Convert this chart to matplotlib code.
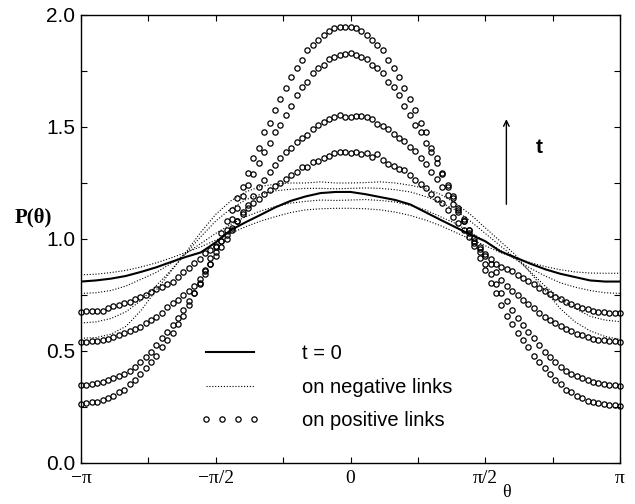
import numpy as np
import matplotlib
matplotlib.use("Agg")
import matplotlib.pyplot as plt
from matplotlib.lines import Line2D

# ---------- data ----------

# sampling grids (degrees)
theta_pts_deg = np.arange(101) * 3.6 - 180.0
theta_line_deg = np.arange(37) * 10.0 - 180.0

# P(theta) at t = 0
p_t0 = [0.810, 0.815, 0.823, 0.835, 0.853, 0.873, 0.897, 0.920, 0.940, 0.985,
        1.040, 1.075, 1.108, 1.142, 1.170, 1.190, 1.205, 1.210, 1.210, 1.200,
        1.187, 1.174, 1.154, 1.120, 1.086, 1.053, 1.020, 0.990, 0.945, 0.918,
        0.890, 0.865, 0.845, 0.830, 0.815, 0.810, 0.810]

# on negative links (dotted), four times
neg_1 = [0.557, 0.560, 0.575, 0.610, 0.680, 0.770, 0.855, 0.940, 1.030, 1.110,
         1.170, 1.210, 1.235, 1.245, 1.250, 1.250, 1.255, 1.250, 1.250, 1.252,
         1.255, 1.250, 1.240, 1.225, 1.200, 1.160, 1.110, 1.050, 0.990, 0.930,
         0.850, 0.770, 0.690, 0.630, 0.590, 0.565, 0.552]
neg_2 = [0.625, 0.630, 0.645, 0.675, 0.725, 0.790, 0.860, 0.935, 1.010, 1.080,
         1.135, 1.175, 1.200, 1.215, 1.222, 1.226, 1.226, 1.224, 1.226, 1.228,
         1.226, 1.220, 1.210, 1.190, 1.165, 1.130, 1.080, 1.025, 0.970, 0.915,
         0.855, 0.790, 0.735, 0.690, 0.655, 0.638, 0.631]
neg_3 = [0.757, 0.760, 0.770, 0.790, 0.820, 0.850, 0.890, 0.935, 0.980, 1.025,
         1.065, 1.100, 1.125, 1.145, 1.160, 1.168, 1.174, 1.172, 1.174, 1.176,
         1.172, 1.165, 1.150, 1.130, 1.100, 1.070, 1.030, 0.990, 0.950, 0.910,
         0.870, 0.835, 0.805, 0.785, 0.770, 0.760, 0.757]
neg_4 = [0.840, 0.843, 0.850, 0.860, 0.875, 0.893, 0.915, 0.940, 0.965, 0.995,
         1.025, 1.055, 1.080, 1.100, 1.118, 1.130, 1.135, 1.137, 1.137, 1.135,
         1.130, 1.120, 1.105, 1.085, 1.060, 1.030, 1.000, 0.970, 0.940, 0.915,
         0.895, 0.877, 0.863, 0.853, 0.848, 0.847, 0.847]

# on positive links (open circles), four times
pos_1 = [0.265, 0.268, 0.271, 0.274, 0.281, 0.292, 0.301, 0.316, 0.328, 0.353,
         0.371, 0.396, 0.422, 0.452, 0.478, 0.516, 0.549, 0.579, 0.620, 0.655,
         0.705, 0.760, 0.802, 0.860, 0.915, 0.970, 1.025, 1.080, 1.130, 1.185,
         1.234, 1.293, 1.360, 1.408, 1.476, 1.519, 1.576, 1.625, 1.676, 1.725,
         1.762, 1.801, 1.842, 1.865, 1.888, 1.911, 1.930, 1.940, 1.945, 1.945, 1.945,
         1.940, 1.930, 1.911, 1.888, 1.865, 1.842, 1.801, 1.762, 1.725, 1.676,
         1.625, 1.576, 1.519, 1.476, 1.408, 1.360, 1.293, 1.234, 1.185, 1.130,
         1.080, 1.025, 0.970, 0.915, 0.860, 0.802, 0.760, 0.705, 0.655, 0.620,
         0.579, 0.549, 0.516, 0.478, 0.452, 0.422, 0.396, 0.371, 0.353, 0.328,
         0.316, 0.301, 0.292, 0.279, 0.272, 0.266, 0.262, 0.259, 0.257, 0.256]
pos_2 = [0.348, 0.348, 0.353, 0.356, 0.363, 0.371, 0.378, 0.388, 0.397, 0.412,
         0.430, 0.452, 0.475, 0.497, 0.527, 0.557, 0.586, 0.616, 0.646, 0.683,
         0.722, 0.760, 0.800, 0.845, 0.890, 0.940, 0.990, 1.040, 1.090, 1.140,
         1.190, 1.240, 1.290, 1.338, 1.390, 1.430, 1.479, 1.509, 1.555, 1.594,
         1.641, 1.680, 1.701, 1.742, 1.762, 1.777, 1.802, 1.811, 1.821, 1.826, 1.830,
         1.821, 1.811, 1.802, 1.777, 1.762, 1.742, 1.701, 1.680, 1.641, 1.594,
         1.555, 1.509, 1.479, 1.430, 1.390, 1.338, 1.290, 1.240, 1.190, 1.140,
         1.090, 1.040, 0.990, 0.940, 0.890, 0.845, 0.800, 0.760, 0.722, 0.683,
         0.646, 0.616, 0.586, 0.557, 0.527, 0.497, 0.475, 0.452, 0.430, 0.412,
         0.397, 0.388, 0.378, 0.371, 0.363, 0.356, 0.353, 0.348, 0.347, 0.345]
pos_3 = [0.542, 0.542, 0.545, 0.546, 0.549, 0.555, 0.563, 0.570, 0.579, 0.589,
         0.598, 0.609, 0.624, 0.638, 0.653, 0.668, 0.695, 0.713, 0.728, 0.750,
         0.770, 0.790, 0.820, 0.855, 0.890, 0.925, 0.965, 1.000, 1.040, 1.080,
         1.120, 1.150, 1.190, 1.230, 1.265, 1.300, 1.330, 1.360, 1.390, 1.408,
         1.434, 1.450, 1.464, 1.490, 1.509, 1.521, 1.534, 1.546, 1.554, 1.546, 1.546,
         1.548, 1.550, 1.544, 1.536, 1.512, 1.505, 1.490, 1.470, 1.452, 1.436,
         1.410, 1.392, 1.362, 1.333, 1.300, 1.268, 1.232, 1.195, 1.155, 1.120,
         1.082, 1.042, 1.003, 0.965, 0.925, 0.888, 0.852, 0.818, 0.788, 0.768,
         0.748, 0.728, 0.711, 0.694, 0.670, 0.653, 0.638, 0.624, 0.610, 0.598,
         0.588, 0.578, 0.570, 0.562, 0.555, 0.550, 0.547, 0.545, 0.543, 0.542]
pos_4 = [0.675, 0.678, 0.680, 0.678, 0.680, 0.690, 0.700, 0.705, 0.713, 0.720,
         0.730, 0.740, 0.752, 0.765, 0.777, 0.787, 0.800, 0.810, 0.830, 0.854,
         0.870, 0.891, 0.910, 0.936, 0.950, 0.965, 0.990, 1.020, 1.050, 1.080,
         1.110, 1.140, 1.160, 1.180, 1.200, 1.220, 1.235, 1.250, 1.270, 1.286,
         1.300, 1.320, 1.323, 1.345, 1.350, 1.363, 1.371, 1.383, 1.390, 1.387, 1.383,
         1.388, 1.378, 1.383, 1.368, 1.378, 1.353, 1.335, 1.327, 1.312, 1.308,
         1.286, 1.263, 1.246, 1.226, 1.200, 1.180, 1.160, 1.130, 1.100, 1.070,
         1.040, 1.010, 0.980, 0.955, 0.935, 0.910, 0.890, 0.875, 0.865, 0.855,
         0.840, 0.826, 0.812, 0.798, 0.783, 0.768, 0.755, 0.742, 0.730, 0.720,
         0.710, 0.700, 0.693, 0.686, 0.680, 0.676, 0.672, 0.670, 0.669, 0.668]

x_major = [-np.pi, -np.pi / 2, 0, np.pi / 2, np.pi]
x_major_labels = ["\u2212\u03c0", "\u2212\u03c0/2", "0", "\u03c0/2", "\u03c0"]
y_major = [0.0, 0.5, 1.0, 1.5, 2.0]

legend_labels = ["t = 0", "on negative links", "on positive links"]


def main() -> None:
    sans = "Liberation Sans"
    serif = "Liberation Serif"

    fig = plt.figure(figsize=(6.35, 5.04), dpi=100)
    ax = fig.add_axes([81 / 635, 41 / 504, 539 / 635, 448 / 504])

    th_pts = np.deg2rad(theta_pts_deg)
    th_line = np.deg2rad(theta_line_deg)

    dot_style = (0, (1.0, 1.6))
    for curve in (neg_1, neg_2, neg_3, neg_4):
        ax.plot(th_line, curve, color="k", lw=0.8, linestyle=dot_style)

    ax.plot(th_line, p_t0, color="k", lw=1.5)

    for curve in (pos_1, pos_2, pos_3, pos_4):
        ax.plot(th_pts, curve, linestyle="none", marker="o", ms=3.8,
                mfc="none", mec="k", mew=0.9, clip_on=False)

    ax.set_xlim(-np.pi, np.pi)
    ax.set_ylim(0.0, 2.0)

    ax.set_xticks(x_major)
    ax.set_xticklabels(x_major_labels, fontfamily=serif, fontsize=14)
    ax.set_xticks([-3 * np.pi / 4, -np.pi / 4, np.pi / 4, 3 * np.pi / 4], minor=True)
    ax.set_yticks(y_major)
    ax.set_yticklabels([f"{v:.1f}" for v in y_major], fontfamily=sans, fontsize=15)
    ax.set_yticks([0.25, 0.75, 1.25, 1.75], minor=True)
    ax.tick_params(which="both", direction="in", length=4.5, width=0.8,
                   top=True, right=True)
    ax.tick_params(axis="x", pad=5)
    ax.tick_params(axis="y", pad=4)
    for s in ax.spines.values():
        s.set_linewidth(1.0)

    ax.text(-0.089, 0.549, "P(\u03b8)", transform=ax.transAxes, ha="center",
            va="center", fontfamily=serif, fontweight="bold", fontsize=15)
    ax.text(0.79, -0.066, "\u03b8", transform=ax.transAxes, ha="center",
            va="center", fontfamily=serif, fontsize=13)

    # time arrow
    ax.annotate("", xy=(1.817, 1.535), xytext=(1.817, 1.155),
                arrowprops=dict(arrowstyle="->", lw=1.0, color="k",
                                shrinkA=0, shrinkB=0))
    ax.text(2.20, 1.41, "t", ha="center", va="center", fontfamily=sans,
            fontweight="bold", fontsize=15)

    handles = [
        Line2D([], [], color="k", lw=1.5),
        Line2D([], [], color="k", lw=0.8, linestyle=dot_style),
        Line2D([], [], linestyle="none", marker="o", ms=3.8, mfc="none",
               mec="k", mew=0.9),
    ]
    ax.legend(handles, legend_labels, loc="upper left",
              bbox_to_anchor=(0.22, 0.265), frameon=False,
              prop={"family": sans, "size": 14.5}, numpoints=4,
              handlelength=3.0, handletextpad=2.1, labelspacing=0.72,
              borderpad=0, borderaxespad=0)

    fig.savefig("out.png", dpi=100)


if __name__ == "__main__":
    main()
